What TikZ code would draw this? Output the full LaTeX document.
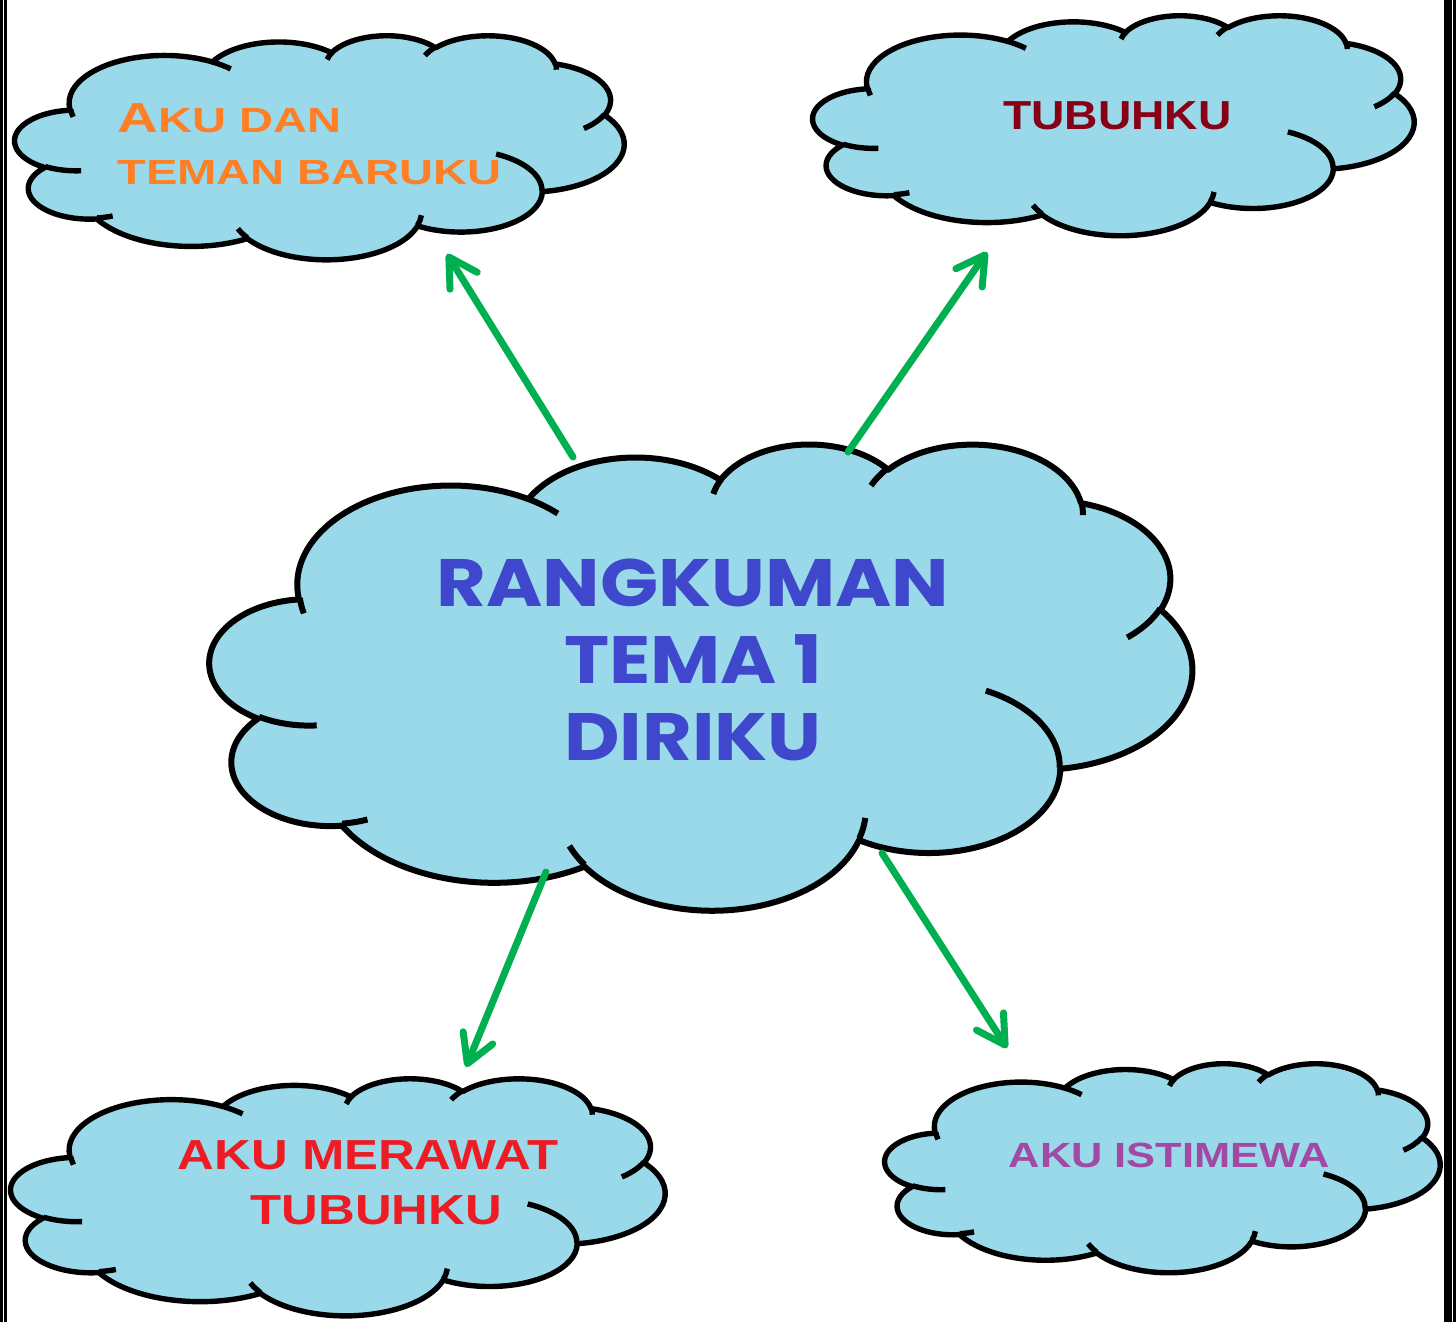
\documentclass[tikz,border=0pt]{standalone}
\usepackage{fontspec}
\setmainfont{Liberation Sans}
\newfontfamily\decofont{Poppins}
\usetikzlibrary{arrows.meta}
\definecolor{skycloud}{HTML}{99D9EA}
\definecolor{arrowgreen}{HTML}{00B050}
\definecolor{txtorange}{HTML}{FF7F27}
\definecolor{txtdarkred}{HTML}{880015}
\definecolor{txtred}{HTML}{ED1C24}
\definecolor{txtpurple}{HTML}{A349A4}
\definecolor{txtindigo}{HTML}{3F48CC}
\newcommand{\oarc}[4]{arc[start angle={pa(#1,#3,#4)}, end angle={pa(#1+#2,#3,#4)}, x radius=#3pt, y radius=#4pt]}
\tikzset{
  declare function={pa(\a,\w,\h)=\a+atan(((\w/\h)-1)*sin(\a)*cos(\a)/(cos(\a)*cos(\a)+(\w/\h)*sin(\a)*sin(\a)));},
  cloudline/.style={draw=black, line join=round},
  cloudtext/.style={inner sep=0pt, align=center},
  greenarrow/.style={draw=arrowgreen, line width=3.5pt, line cap=round, -{Straight Barb[length=14pt, width=16pt, round]}},
  pics/puff/.style={code={
    \filldraw[cloudline, fill=skycloud] (39pt,143.7pt)
      \oarc{-190.4875}{123.7805}{67.53}{91.90}
      \oarc{-144.1024}{89.9452}{53.33}{72.67}
      \oarc{-145.8079}{99.7230}{43.65}{59.45}
      \oarc{-130.9861}{117.2417}{48.57}{65.95}
      \oarc{-78.7089}{109.0269}{53.33}{72.73}
      \oarc{-46.2673}{130.2690}{67.75}{92.20}
      \oarc{0.6250}{114.0333}{57.85}{78.67}
      \oarc{22.4516}{115.1726}{67.52}{92.15}
      \oarc{66.2426}{75.7110}{77.20}{105.43}
      \oarc{-274.9421}{146.7356}{43.60}{59.18}
      \oarc{-246.8285}{152.5189}{43.45}{59.45}
      -- cycle;
    \draw[cloudline]
      (46.93pt,261.77pt) \oarc{86.7420}{26.4295}{43.45}{59.45}
      (69.28pt,348.99pt) \oarc{73.6105}{11.4475}{43.60}{59.18}
      (164.78pt,390.90pt) \oarc{137.6242}{14.0811}{67.52}{92.15}
      (288.27pt,347.51pt) \oarc{6.4533}{15.9984}{67.52}{92.15}
      (341.29pt,229.54pt) \oarc{-70.2924}{70.9174}{57.85}{78.67}
      (417.98pt,153.54pt) \oarc{30.3180}{27.7515}{53.33}{72.73}
      (383.24pt,54.26pt) \oarc{-13.7443}{14.8589}{48.57}{65.95}
      (290.78pt,39.52pt) \oarc{-149.1815}{18.1954}{48.57}{65.95}
      (221.41pt,47.20pt) \oarc{-163.4943}{17.6864}{43.65}{59.45}
      (140.00pt,51.92pt) \oarc{-66.7070}{12.3194}{67.53}{91.90}
      (41.27pt,157.89pt) \oarc{161.3351}{11.8635}{67.53}{91.90};
  }}
}
\begin{document}
\begin{tikzpicture}[x=0.5pt, y=-0.5pt]
\useasboundingbox (0,0) rectangle (1456,1322);
\fill[white] (0,0) rectangle (1456,1322);
\fill[black] (0,0) rectangle (2.7,1322);
\fill[black] (4,0) rectangle (6.7,1322);
\fill[black] (1444,0) rectangle (1452,1322);
\fill[black] (1453.3,0) rectangle (1456,1322);

\pic[xscale=1.1366, yscale=-0.5394, line width=3pt] at (210,443) {puff};
\pic[xscale=0.7049, yscale=-0.2593, line width=2.7pt] at (15,35) {puff};
\pic[xscale=0.6956, yscale=-0.2546, line width=2.7pt] at (813,15) {puff};
\pic[xscale=0.7569, yscale=-0.2743, line width=2.7pt] at (11,1078) {puff};
\pic[xscale=0.6424, yscale=-0.2419, line width=2.7pt] at (885,1063) {puff};

\node[cloudtext, text=txtindigo, font=\decofont\bfseries\fontsize{33.5}{38.5}\selectfont, xscale=1.14] (rangkuman) at (693,659.5) {RANGKUMAN\\TEMA 1\\DIRIKU};
\node[cloudtext, align=left, anchor=west, text=txtorange, font=\bfseries\fontsize{17.5}{26}\selectfont, xscale=1.345] (akudan) at (117,144) {{\fontsize{21}{26}\selectfont A}KU DAN\\TEMAN BARUKU};
\node[cloudtext, text=txtdarkred, font=\bfseries\fontsize{20.25}{24}\selectfont, xscale=1.14] (tubuhku) at (1117.5,115.5) {TUBUHKU};
\node[cloudtext, text=txtred, font=\bfseries\fontsize{21}{27.5}\selectfont, xscale=1.21] (merawat) at (368,1182.5) {AKU MERAWAT\\\hspace*{7pt}TUBUHKU};
\node[cloudtext, text=txtpurple, font=\bfseries\fontsize{17.5}{21}\selectfont, xscale=1.24] (istimewa) at (1169,1155) {AKU ISTIMEWA};

\coordinate (from-akudan) at (573,457);
\coordinate (to-akudan) at (447,254);
\coordinate (from-tubuhku) at (848,452);
\coordinate (to-tubuhku) at (987,252);
\coordinate (from-merawat) at (546,872);
\coordinate (to-merawat) at (466,1067);
\coordinate (from-istimewa) at (882,853);
\coordinate (to-istimewa) at (1007,1048);
\draw[greenarrow] (from-akudan) -- (to-akudan);
\draw[greenarrow] (from-tubuhku) -- (to-tubuhku);
\draw[greenarrow] (from-merawat) -- (to-merawat);
\draw[greenarrow] (from-istimewa) -- (to-istimewa);
\end{tikzpicture}
\end{document}
